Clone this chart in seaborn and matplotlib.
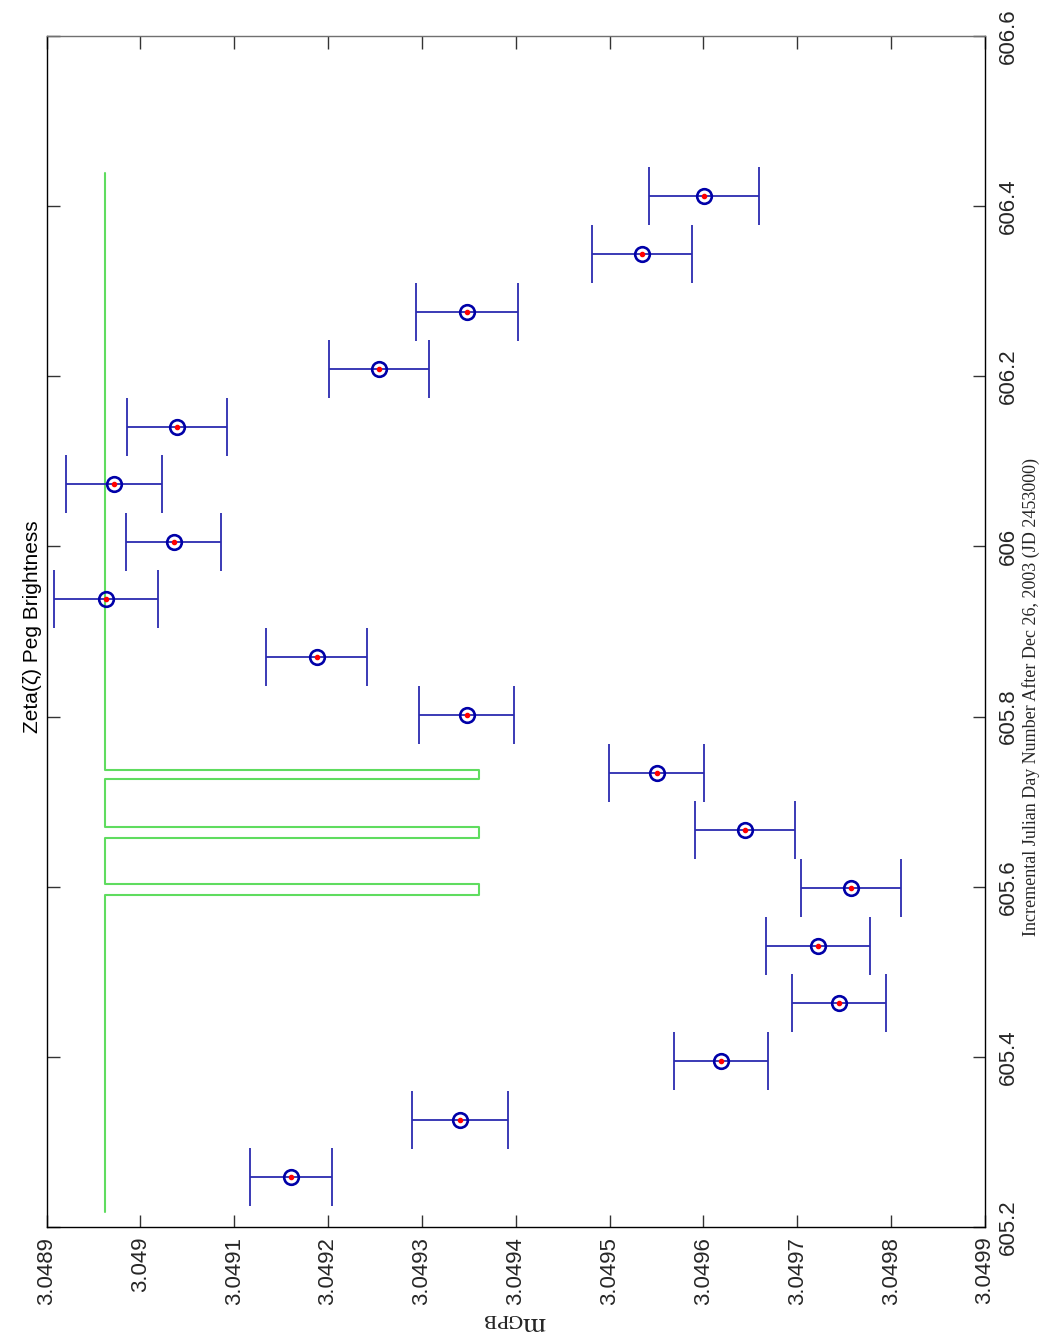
"""
Zeta Peg brightness (m_GPB) vs incremental Julian day, drawn rotated
the way the original MATLAB figure was printed (page turned 90 degrees).
"""

import numpy as np
import matplotlib
matplotlib.use("Agg")
import matplotlib.pyplot as plt
import seaborn as sns

# ---- data ----
day = [605.2588, 605.3258, 605.3951, 605.4633, 605.5303, 605.5985,
       605.6667, 605.7337, 605.8019, 605.8700, 605.9382, 606.0052,
       606.0734, 606.1404, 606.2086, 606.2756, 606.3438, 606.4119]
mag = [3.0491604, 3.0493404, 3.0496183, 3.0497440, 3.0497216, 3.0497568,
       3.0496439, 3.0495502, 3.0493478, 3.0491881, 3.0489634, 3.0490358,
       3.0489719, 3.0490395, 3.0492541, 3.0493478, 3.0495342, 3.0496002]
mag_err = [0.0000437, 0.0000511, 0.0000500, 0.0000500, 0.0000554, 0.0000532,
           0.0000532, 0.0000506, 0.0000506, 0.0000538, 0.0000559, 0.0000506,
           0.0000516, 0.0000532, 0.0000532, 0.0000543, 0.0000532, 0.0000586]

# green reference trace (step with three short pulses)
green_day = [605.2176, 605.5903, 605.5903, 605.6032, 605.6032,
             605.6573, 605.6573, 605.6702, 605.6702,
             605.7266, 605.7266, 605.7372, 605.7372, 606.4390]
green_mag = [3.0489626, 3.0489626, 3.0493606, 3.0493606, 3.0489626,
             3.0489626, 3.0493606, 3.0493606, 3.0489626,
             3.0489626, 3.0493606, 3.0493606, 3.0489626, 3.0489626]

mag_ticks = [3.0489, 3.0490, 3.0491, 3.0492, 3.0493, 3.0494,
             3.0495, 3.0496, 3.0497, 3.0498, 3.0499]
mag_ticklabels = ["3.0489", "3.049", "3.0491", "3.0492", "3.0493", "3.0494",
                  "3.0495", "3.0496", "3.0497", "3.0498", "3.0499"]
day_ticks = [605.2, 605.4, 605.6, 605.8, 606.0, 606.2, 606.4, 606.6]
day_ticklabels = ["605.2", "605.4", "605.6", "605.8", "606", "606.2", "606.4", "606.6"]

title = "Zeta(\u03b6) Peg Brightness"
day_label = "Incremental Julian Day Number After Dec 26, 2003 (JD 2453000)"
mag_label = r"$\mathrm{m}_{\mathrm{GPB}}$"

sns.set_theme(style="white")
plt.rcParams["font.family"] = ["Liberation Sans", "DejaVu Sans"]
plt.rcParams["mathtext.fontset"] = "stix"

fig = plt.figure(figsize=(10.45, 13.42), dpi=100)
fig.patch.set_facecolor("white")
ax = fig.add_axes([0.0445, 0.0857, 0.8981, 0.8875])
ax.set_facecolor("white")

sns.lineplot(x=green_mag, y=green_day, sort=False, estimator=None,
             color="#5fdc5f", linewidth=1.5, ax=ax, zorder=1)

ax.errorbar(mag, day, xerr=mag_err, fmt="none", ecolor="#2b2bb0",
            elinewidth=1.3, capsize=21, capthick=1.3, zorder=2)
ax.plot(mag, day, "o", ms=10.5, mfc="none", mec="#0000a8", mew=1.9, zorder=3)
ax.plot(mag, day, "o", ms=3, mfc="red", mec="red", zorder=4)

ax.set_xlim(3.0489, 3.0499)
ax.set_ylim(605.2, 606.6)
ax.set_xticks(mag_ticks)
ax.set_xticklabels(mag_ticklabels, rotation=90, fontsize=16)
ax.set_yticks(day_ticks)
ax.set_yticklabels(day_ticklabels, rotation=90, fontsize=16, va="center")

ax.tick_params(axis="both", direction="in", length=9, width=1, color="#333333",
               top=True, bottom=True, left=True, right=True,
               labelleft=False, labelright=True, labeltop=False, labelbottom=True)
ax.tick_params(axis="x", pad=7)
ax.tick_params(axis="y", pad=9)

for side, sp in ax.spines.items():
    sp.set_visible(True)
    sp.set_linewidth(1.0)
    sp.set_color("#707070" if side == "top" else "black")

ax.set_ylabel(day_label, rotation=90, fontsize=13, family="Liberation Serif")
ax.yaxis.set_label_position("right")
ax.yaxis.set_label_coords(1.049, 0.445)
ax.yaxis.label.set_va("center")
ax.yaxis.label.set_ha("center")

ax.set_xlabel(mag_label, rotation=180, fontsize=21)
ax.xaxis.set_label_coords(0.5, -0.082)
ax.xaxis.label.set_va("center")

fig.text(33 / 1045, 1 - 627 / 1342, title, rotation=90, ha="center", va="center",
         fontsize=15, color="black")

fig.savefig("out.png", dpi=100, facecolor="white")
